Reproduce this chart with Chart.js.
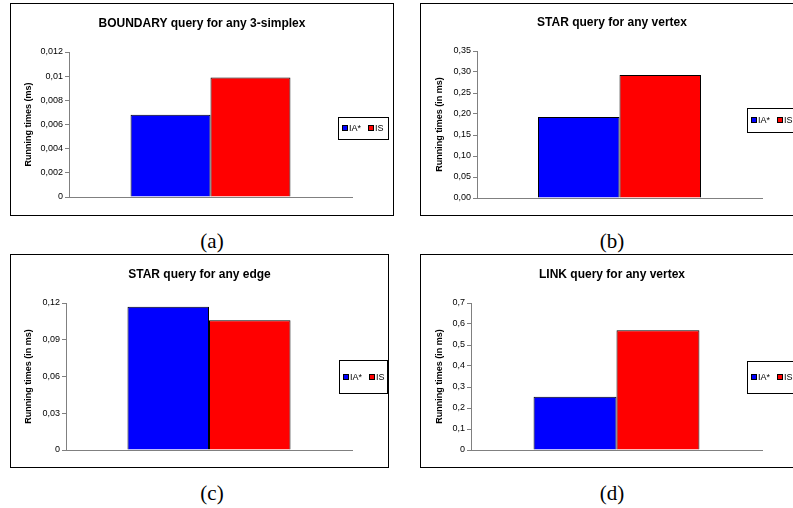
<!DOCTYPE html>
<html>
<head>
<meta charset="utf-8">
<script src="https://cdn.jsdelivr.net/npm/chart.js@4.4.0/dist/chart.umd.min.js"></script>
<style>
  html, body { margin: 0; padding: 0; background: #fff; width: 793px; height: 508px; overflow: hidden; }
  .panel { position: absolute; border: 1px solid #000; background: #fff; }
  .panel canvas { display: block; }
  .caption { position: absolute; width: 80px; margin-left: -40px; text-align: center;
             font-family: 'Liberation Serif', serif; font-size: 21px; line-height: 24px; color: #000; }
</style>
</head>
<body>
<div class="panel" style="left:10px;top:3px;width:382px;height:211px"><canvas id="chartA" width="382" height="211"></canvas></div>
<div class="panel" style="left:420px;top:3px;width:382px;height:211px"><canvas id="chartB" width="382" height="211"></canvas></div>
<div class="panel" style="left:10px;top:254px;width:377px;height:212px"><canvas id="chartC" width="377" height="212"></canvas></div>
<div class="panel" style="left:420px;top:254px;width:382px;height:212px"><canvas id="chartD" width="382" height="212"></canvas></div>
<div class="caption" style="left:212px;top:229px">(a)</div>
<div class="caption" style="left:612px;top:229px">(b)</div>
<div class="caption" style="left:212px;top:481px">(c)</div>
<div class="caption" style="left:612px;top:481px">(d)</div>
<script>
// --- data ---
const categories = [''];
const seriesNames = ['IA*', 'IS'];
const seriesColors = ['#0000ff', '#ff0000'];

const boundaryValues = [0.0068, 0.0099];
const starVertexValues = [0.193, 0.293];
const starEdgeValues = [0.117, 0.106];
const linkVertexValues = [0.254, 0.570];

const boundaryTicks = [0, 0.002, 0.004, 0.006, 0.008, 0.01, 0.012];
const boundaryTickLabels = ['0', '0,002', '0,004', '0,006', '0,008', '0,01', '0,012'];
const starVertexTicks = [0, 0.05, 0.10, 0.15, 0.20, 0.25, 0.30, 0.35];
const starVertexTickLabels = ['0,00', '0,05', '0,10', '0,15', '0,20', '0,25', '0,30', '0,35'];
const starEdgeTicks = [0, 0.03, 0.06, 0.09, 0.12];
const starEdgeTickLabels = ['0', '0,03', '0,06', '0,09', '0,12'];
const linkVertexTicks = [0, 0.1, 0.2, 0.3, 0.4, 0.5, 0.6, 0.7];
const linkVertexTickLabels = ['0', '0,1', '0,2', '0,3', '0,4', '0,5', '0,6', '0,7'];

// legend drawn as a framed box over the plot, like the spreadsheet charts
const boxLegend = {
    id: 'boxLegend',
    afterDraw(chart, args, opts) {
        const ctx = chart.ctx;
        ctx.save();
        ctx.fillStyle = '#fff';
        ctx.fillRect(opts.x, opts.y, opts.w, opts.h);
        ctx.strokeStyle = '#000';
        ctx.lineWidth = 1;
        ctx.strokeRect(opts.x + 0.5, opts.y + 0.5, opts.w, opts.h);
        ctx.font = '9px "Liberation Sans", Arial, sans-serif';
        ctx.textBaseline = 'middle';
        let cx = opts.x + 4;
        const cy = Math.round(opts.y + opts.h / 2);
        chart.data.datasets.forEach(ds => {
            ctx.fillStyle = ds.backgroundColor;
            ctx.fillRect(cx, cy - 3, 6, 6);
            ctx.strokeStyle = '#000';
            ctx.strokeRect(cx + 0.5, cy - 2.5, 5, 5);
            cx += 7;
            ctx.fillStyle = '#000';
            ctx.fillText(ds.label, cx, cy + 1);
            cx += ctx.measureText(ds.label).width + 7;
        });
        ctx.restore();
    }
};

function makeChart(id, values, tickValues, tickLabels, title, yTitle, lay) {
    return new Chart(document.getElementById(id), {
        type: 'bar',
        data: {
            labels: categories,
            datasets: seriesNames.map((name, i) => ({
                label: name,
                data: [values[i]],
                backgroundColor: seriesColors[i],
                borderColor: '#000',
                borderWidth: 1,
                barPercentage: 1,
                categoryPercentage: lay.cat
            }))
        },
        options: {
            responsive: false,
            animation: false,
            layout: { padding: { left: 0, right: 0, top: 0, bottom: lay.bottom } },
            plugins: {
                legend: { display: false },
                tooltip: { enabled: false },
                title: {
                    display: true,
                    text: title,
                    color: '#000',
                    font: { family: 'Liberation Sans', size: 12, weight: 'bold' },
                    padding: { top: lay.tTop, bottom: lay.tBottom }
                },
                boxLegend: lay.legend
            },
            scales: {
                x: {
                    grid: { display: true, drawOnChartArea: false, drawTicks: false },
                    border: { color: '#808080' },
                    ticks: { display: false },
                    afterFit: s => { s.height = 0; }
                },
                y: {
                    min: tickValues[0],
                    max: tickValues[tickValues.length - 1],
                    afterBuildTicks: s => { s.ticks = tickValues.map(v => ({ value: v })); },
                    ticks: {
                        callback: (v, i) => tickLabels[i],
                        color: '#000',
                        font: { family: 'Liberation Sans', size: 9 },
                        padding: 2
                    },
                    grid: { drawOnChartArea: false, drawTicks: true, tickLength: 4, tickColor: '#808080' },
                    border: { color: '#808080' },
                    title: {
                        display: true,
                        text: yTitle,
                        color: '#000',
                        font: { family: 'Liberation Sans', size: 9, weight: 'bold' },
                        padding: { top: lay.yPad, bottom: 0 }
                    },
                    afterFit: s => { s.width = lay.axisW; }
                },
                // empty right-hand scale: keeps the plot narrower without moving the title
                gap: {
                    position: 'right',
                    display: true,
                    grid: { display: false },
                    border: { display: false },
                    ticks: { display: false },
                    afterFit: s => { s.width = lay.gap; }
                }
            }
        },
        plugins: [boxLegend]
    });
}

makeChart('chartA', boundaryValues, boundaryTicks, boundaryTickLabels,
    'BOUNDARY query for any 3-simplex', 'Running times (ms)',
    { axisW: 58, gap: 41, bottom: 18, tTop: 12.4, tBottom: 21.2, yPad: 12.6, cat: 0.565,
      legend: { x: 327, y: 113, w: 50, h: 22 } });

makeChart('chartB', starVertexValues, starVertexTicks, starVertexTickLabels,
    'STAR query for any vertex', 'Running times (in ms)',
    { axisW: 56, gap: 41, bottom: 17, tTop: 11.1, tBottom: 21.5, yPad: 13.6, cat: 0.572,
      legend: { x: 326, y: 104, w: 52, h: 24 } });

makeChart('chartC', starEdgeValues, starEdgeTicks, starEdgeTickLabels,
    'STAR query for any edge', 'Running times (in ms)',
    { axisW: 55, gap: 36, bottom: 17, tTop: 12.8, tBottom: 20.8, yPad: 12.6, cat: 0.57,
      legend: { x: 328, y: 105, w: 48, h: 33 } });

makeChart('chartD', linkVertexValues, linkVertexTicks, linkVertexTickLabels,
    'LINK query for any vertex', 'Running times (in ms)',
    { axisW: 50, gap: 41, bottom: 17, tTop: 12.8, tBottom: 20.8, yPad: 13.6, cat: 0.57,
      legend: { x: 326, y: 106, w: 52, h: 32 } });
</script>
</body>
</html>
